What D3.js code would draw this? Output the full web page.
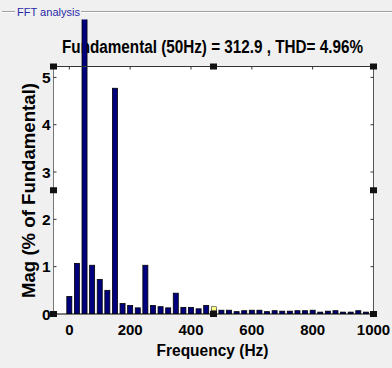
<!DOCTYPE html>
<html>
<head>
<meta charset="utf-8">
<script src="https://cdn.jsdelivr.net/npm/d3@7"></script>
<style>
  html, body { margin: 0; padding: 0; background: #f0f0f0; }
  svg { display: block; font-family: "Liberation Sans", Arial, sans-serif; }
</style>
</head>
<body>
<svg id="chart" width="392" height="368"></svg>
<script>
// ---- data ----
const panelTitle = "FFT analysis";
const chartTitle = "Fundamental (50Hz) = 312.9 , THD= 4.96%";
const xLabel = "Frequency (Hz)";
const yLabel = "Mag (% of Fundamental)";
const frequencies = [0, 25, 50, 75, 100, 125, 150, 175, 200, 225, 250, 275, 300, 325, 350, 375, 400, 425, 450, 475,
  500, 525, 550, 575, 600, 625, 650, 675, 700, 725, 750, 775, 800, 825, 850, 875, 900, 925, 950, 975, 1000];
const magnitudes = [0.37, 1.07, 100, 1.03, 0.73, 0.50, 4.77, 0.22, 0.18, 0.13, 1.03, 0.18, 0.155, 0.13, 0.44, 0.14, 0.14, 0.11, 0.18, 0.09,
  0.08, 0.08, 0.05, 0.07, 0.08, 0.08, 0.05, 0.07, 0.06, 0.06, 0.07, 0.07, 0.08, 0.04, 0.06, 0.07, 0.04, 0.04, 0.07, 0.04, 0.05];
const xTicks = [0, 200, 400, 600, 800, 1000];
const yTicks = [0, 1, 2, 3, 4, 5];
const xDomain = [-52, 1000];
const yDomain = [0, 5.23];
const markedFrequency = 475;

// ---- layout ----
const svg = d3.select("#chart");
const W = 392, H = 368;
const plot = { left: 53.5, right: 373.5, top: 66.5, bottom: 314 };

svg.append("rect").attr("width", W).attr("height", H).attr("fill", "#f0f0f0");

// panel frame line with title
svg.append("line").attr("x1", 2).attr("x2", 15).attr("y1", 11.5).attr("y2", 11.5).attr("stroke", "#a0a0a0");
svg.append("line").attr("x1", 81).attr("x2", W).attr("y1", 11.5).attr("y2", 11.5).attr("stroke", "#a0a0a0");
svg.append("line").attr("x1", 2).attr("x2", 15).attr("y1", 12.5).attr("y2", 12.5).attr("stroke", "#ffffff");
svg.append("line").attr("x1", 81).attr("x2", W).attr("y1", 12.5).attr("y2", 12.5).attr("stroke", "#ffffff");
svg.append("text").attr("x", 17).attr("y", 15.5).attr("font-size", 11.5)
  .attr("fill", "#2a2aa8").attr("textLength", 63).attr("lengthAdjust", "spacingAndGlyphs")
  .text(panelTitle);

const x = d3.scaleLinear().domain(xDomain).range([plot.left, plot.right]);
const y = d3.scaleLinear().domain(yDomain).range([plot.bottom, plot.top]);

// plot background
svg.append("rect").attr("x", plot.left).attr("y", plot.top)
  .attr("width", plot.right - plot.left).attr("height", plot.bottom - plot.top).attr("fill", "#ffffff");

// title
svg.append("text").attr("x", (62 + 363) / 2).attr("y", 53).attr("text-anchor", "middle")
  .attr("font-size", 17.5).attr("font-weight", "bold").attr("fill", "#000")
  .attr("textLength", 301).attr("lengthAdjust", "spacingAndGlyphs")
  .text(chartTitle);

// clip (bars can overflow the axes up to the panel)
svg.append("clipPath").attr("id", "barclip").append("rect")
  .attr("x", 0).attr("y", 19.5).attr("width", W).attr("height", plot.bottom - 19.5);

const step = x(25) - x(0);
const bw = step * 0.66;
svg.append("g").attr("clip-path", "url(#barclip)")
  .selectAll("rect").data(frequencies.map((f, i) => ({ f, m: magnitudes[i] })))
  .join("rect")
  .attr("x", d => x(d.f) - bw / 2)
  .attr("y", d => y(d.m))
  .attr("width", bw)
  .attr("height", d => y(0) - y(d.m))
  .attr("fill", "#00007f")
  .attr("stroke", "#000")
  .attr("stroke-width", 0.8);

// axes box
const axisColor = "#555";
svg.append("line").attr("x1", plot.left).attr("x2", plot.right).attr("y1", plot.top).attr("y2", plot.top).attr("stroke", "#333");
svg.append("line").attr("x1", plot.left).attr("x2", plot.left).attr("y1", plot.top).attr("y2", plot.bottom).attr("stroke", "#777");
svg.append("line").attr("x1", plot.right).attr("x2", plot.right).attr("y1", plot.top).attr("y2", plot.bottom).attr("stroke", axisColor);
svg.append("line").attr("x1", plot.left).attr("x2", plot.right).attr("y1", plot.bottom).attr("y2", plot.bottom).attr("stroke", "#000").attr("stroke-width", 1.2);

// ticks (inward)
const tickG = svg.append("g").attr("stroke", "#333");
xTicks.forEach(t => {
  tickG.append("line").attr("x1", x(t)).attr("x2", x(t)).attr("y1", plot.top).attr("y2", plot.top + 3);
});
yTicks.forEach(t => {
  tickG.append("line").attr("x1", plot.left).attr("x2", plot.left + 3).attr("y1", y(t)).attr("y2", y(t));
  tickG.append("line").attr("x1", plot.right - 3).attr("x2", plot.right).attr("y1", y(t)).attr("y2", y(t));
});

// tick labels
svg.append("g").selectAll("text").data(xTicks).join("text")
  .attr("x", d => x(d)).attr("y", 335).attr("text-anchor", "middle")
  .attr("font-size", 15).attr("font-weight", "bold").text(d => d);
svg.append("g").selectAll("text").data(yTicks).join("text")
  .attr("x", 50.5).attr("y", d => y(d) + 5.5).attr("text-anchor", "end")
  .attr("font-size", 15.5).attr("font-weight", "bold").text(d => d);

// axis labels
svg.append("text").attr("x", 212.5).attr("y", 355.5).attr("text-anchor", "middle")
  .attr("font-size", 16).attr("font-weight", "bold")
  .attr("textLength", 112).attr("lengthAdjust", "spacingAndGlyphs").text(xLabel);
svg.append("text").attr("transform", "translate(35,190.5) rotate(-90)").attr("text-anchor", "middle")
  .attr("font-size", 18).attr("font-weight", "bold")
  .attr("textLength", 215).attr("lengthAdjust", "spacingAndGlyphs").text(yLabel);

// selection handles
const midX = (plot.left + plot.right) / 2, midY = (plot.top + plot.bottom) / 2;
const handles = [[plot.left, plot.top], [midX, plot.top], [plot.right, plot.top],
  [plot.left, midY], [plot.right, midY],
  [plot.left, plot.bottom], [midX, plot.bottom], [plot.right, plot.bottom]];
svg.append("g").selectAll("rect").data(handles).join("rect")
  .attr("x", d => d[0] - 3.5).attr("y", d => d[1] - 3).attr("width", 7).attr("height", 6)
  .attr("fill", "#111");

// data marker (yellow)
const mi = frequencies.indexOf(markedFrequency);
svg.append("rect").attr("x", x(markedFrequency) - 2.5).attr("y", y(magnitudes[mi]) - 3)
  .attr("width", 5).attr("height", 4).attr("fill", "#ffff80").attr("stroke", "#333").attr("stroke-width", 0.6);
</script>
</body>
</html>
